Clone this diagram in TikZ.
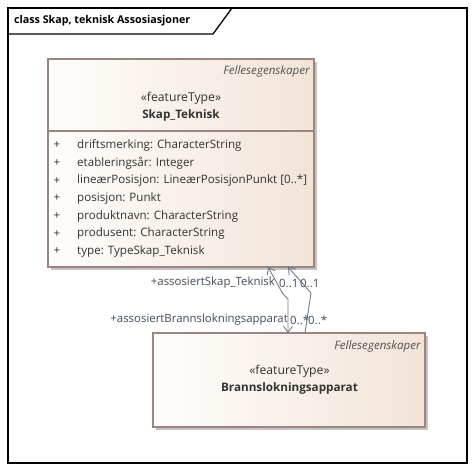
\documentclass[tikz,border=0pt]{standalone}
\usepackage{fontspec}
\setmainfont{Open Sans}
\usetikzlibrary{arrows.meta}
\definecolor{boxborder}{HTML}{9A8580}
\definecolor{boxleft}{HTML}{FFFDFB}
\definecolor{boxright}{HTML}{F2E4D7}
\definecolor{shadowc}{HTML}{C4C4C4}
\definecolor{txt}{HTML}{333333}
\definecolor{conn}{HTML}{6E7C8E}
\definecolor{lbl}{HTML}{3D4B5C}
\tikzset{
  frameline/.style={draw=black, line width=1.3pt},
  classbox/.style={draw=boxborder, line width=1.1pt, left color=boxleft, right color=boxright},
  shadowbox/.style={fill=shadowc, draw=none},
  stereo/.style={font=\fontsize{12.2}{13}\selectfont, text=txt, inner sep=0pt},
  cname/.style={font=\fontsize{11.7}{13}\selectfont\bfseries, text=txt, inner sep=0pt},
  pkg/.style={font=\fontsize{11.6}{13}\selectfont\itshape, text=txt!85, inner sep=0pt, anchor=east},
  attr/.style={font=\fontsize{11.6}{13}\selectfont, text=txt, inner sep=0pt, anchor=west},
  plus/.style={font=\fontsize{11.6}{13}\selectfont, text=txt, inner sep=0pt},
  assoc/.style={draw=conn, line width=0.9pt},
  nav/.style={-{Straight Barb[length=6pt,width=9pt]}},
  rolelbl/.style={font=\fontsize{11.4}{13}\selectfont, text=lbl, inner sep=0pt},
}
\begin{document}
\begin{tikzpicture}[x=1pt,y=-1pt]
\useasboundingbox (0,0) rectangle (475,471);
% frame
\draw[frameline] (8,8) rectangle (467,463);
\draw[frameline] (8,34) -- (213,34) -- (232,8);
\node[anchor=west, inner sep=0pt, font=\fontsize{10.7}{12}\selectfont\bfseries] (title) at (14,21) {class Skap, teknisk Assosiasjoner};
% Skap_Teknisk
\fill[shadowbox] (51,62) rectangle (317,270);
\path[classbox] (48,59) rectangle (314,267);
\coordinate (skapTL) at (48,59);
\coordinate (skapBR) at (314,267);
\draw[boxborder, line width=1.1pt] (48,131) -- (314,131);
\node[pkg] (skappkg) at (310,71) {Fellesegenskaper};
\node[stereo] (skapst) at (181,98) {«featureType»};
\node[cname] (skapname) at (181,115) {Skap\_Teknisk};
\foreach \t [count=\i from 0] in {driftsmerking: CharacterString, etableringsår: Integer, lineærPosisjon: LineærPosisjonPunkt [0..*], posisjon: Punkt, produktnavn: CharacterString, produsent: CharacterString, type: TypeSkap\_Teknisk}{
  \node[plus] (p\i) at (57,145.5+17.65*\i) {+};
  \node[attr] (a\i) at (77,145.5+17.65*\i) {\t};
}
% Brannslokningsapparat
\fill[shadowbox] (156,336) rectangle (428,430);
\path[classbox] (153,333) rectangle (425,427);
\node[pkg] (brpkg) at (421,346) {Fellesegenskaper};
\node[stereo] (brst) at (289.5,371) {«featureType»};
\node[cname] (brname) at (289.5,388) {Brannslokningsapparat};
% connectors
\coordinate (a1top) at (268,267);
\coordinate (a1m1) at (283,294);
\coordinate (a1m2) at (288,299);
\coordinate (a1bot) at (288,333);
\coordinate (b1top) at (288,267);
\coordinate (b1m) at (311,293);
\coordinate (b1bot) at (305,333);
\draw[assoc, nav] (a1m1) -- (a1top);
\draw[assoc, nav] (a1m1) -- (a1m2) -- (a1bot);
\draw[assoc, nav] (b1m) -- (b1top);
\draw[assoc] (b1m) -- (b1bot);
% role labels
\node[rolelbl, anchor=east] (r1) at (275,283) {+assosiertSkap\_Teknisk};
\node[rolelbl, anchor=west] (m1) at (279,283) {0..1};
\node[rolelbl, anchor=west] (m2) at (300,283) {0..1};
\node[rolelbl, anchor=east] (r2) at (288,320) {+assosiertBrannslokningsapparat};
\node[rolelbl, anchor=west] (m3) at (290,320) {0..*};
\node[rolelbl, anchor=west] (m4) at (308,320) {0..*};
\end{tikzpicture}
\end{document}
